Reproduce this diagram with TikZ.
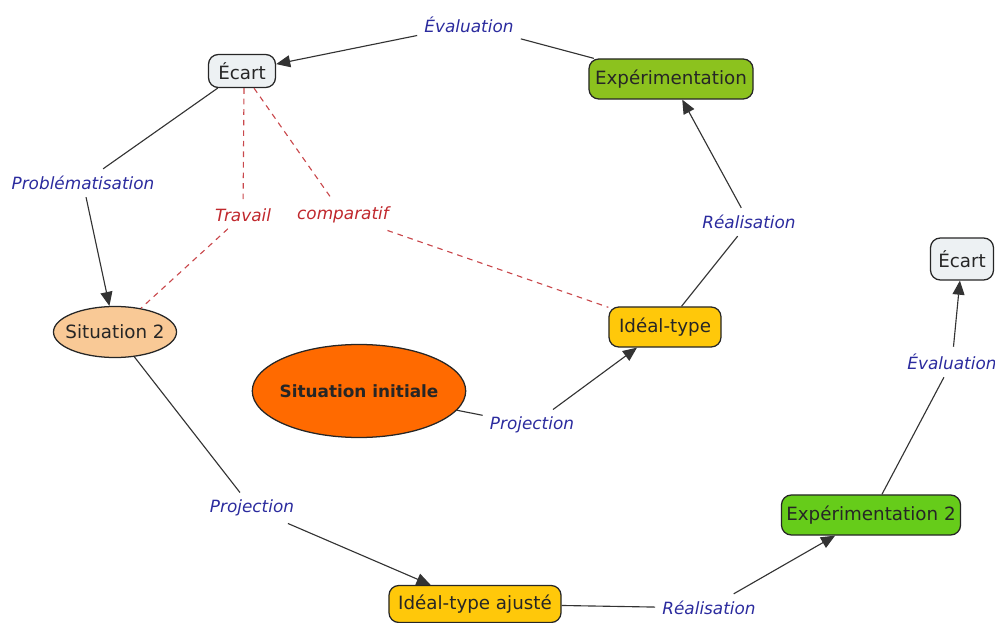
\documentclass[tikz,border=0pt]{standalone}
\usepackage{fontspec}
\setmainfont{DejaVu Sans}
\usetikzlibrary{arrows.meta,shapes.geometric}

\definecolor{ecartfill}{HTML}{EDF1F3}
\definecolor{expfill}{HTML}{8CC21E}
\definecolor{expfilltwo}{HTML}{66CC1A}
\definecolor{sitfill}{HTML}{F9C996}
\definecolor{initfill}{HTML}{FF6A00}
\definecolor{idealfill}{HTML}{FFC80A}
\definecolor{linkblue}{HTML}{2B2B9E}
\definecolor{linkred}{HTML}{C0282D}

\tikzset{
    concept/.style={draw=black!85, fill=ecartfill, rounded corners=7pt, line width=0.9pt,
        inner sep=0pt, text=black!85, font=\fontsize{13}{15}\selectfont},
    oval/.style={draw=black!85, ellipse, line width=0.9pt, inner ysep=0pt,
        text=black!85, font=\fontsize{13}{15}\selectfont},
    lien/.style={inner sep=5pt, text=linkblue, font=\fontsize{12}{14}\selectfont\itshape},
    lienrouge/.style={lien, text=linkred},
    trait/.style={draw=black!80, line width=0.8pt},
    fleche/.style={trait, -{Triangle[length=10pt,width=8.5pt]}},
    pointille/.style={draw=linkred!85, line width=0.8pt, dash pattern=on 4pt off 3.5pt}
}

\begin{document}
\begin{tikzpicture}[x=0.025cm, y=-0.025cm]
                \useasboundingbox (0, 0) rectangle (995, 623);

                \node[concept, minimum width=1.675cm, minimum height=0.825cm] (ecartA) at (242, 71) {Écart};

                \node[concept, fill=expfill, minimum width=4.1cm, minimum height=1cm] (exp) at (671, 79) {Expérimentation};

                \node[oval, fill=sitfill, inner xsep=-4.3pt, minimum height=1.275cm] (sitB) at (115, 332) {Situation 2};

                \node[oval, fill=initfill, inner xsep=-2.8pt, minimum height=2.325cm, font=\fontsize{12}{14}\selectfont\bfseries] (init) at (359, 391) {Situation initiale};

                \node[concept, fill=idealfill, minimum width=2.8cm, minimum height=1cm] (ideal) at (665, 327) {Idéal-type};

                \node[concept, minimum width=1.575cm, minimum height=1.05cm] (ecartB) at (962, 259) {Écart};

                \node[concept, fill=idealfill, minimum width=4.3cm, minimum height=0.925cm] (idealB) at (475, 604) {Idéal-type ajusté};

                \node[concept, fill=expfilltwo, minimum width=4.475cm, minimum height=1cm] (expB) at (871, 515) {Expérimentation 2};

                \node[lien] (evalA) at (469, 25) {Évaluation};

                \node[lien] (probl) at (83, 183) {Problématisation};

                \node[lienrouge] (travail) at (243, 215) {Travail};

                \node[lienrouge] (compar) at (343, 215) {comparatif};

                \node[lien] (realA) at (749, 222) {Réalisation};

                \node[lien] (projA) at (532, 425) {Projection};

                \node[lien] (projB) at (252, 508) {Projection};

                \node[lien] (realB) at (709, 608) {Réalisation};

                \node[lien] (evalB) at (952, 362) {Évaluation};

                \draw[trait] (exp) -- (evalA);

                \draw[fleche] (evalA) -- (ecartA);

                \draw[trait] (ecartA) -- (probl);

                \draw[fleche] (probl) -- (sitB);

                \draw[pointille] (ecartA.south) ++(2, 0) -- (travail);

                \draw[pointille] (travail) -- (sitB);

                \draw[pointille] (ecartA) -- (compar);

                \draw[pointille] (compar) -- (ideal);

                \draw[trait] (init) -- (projA);

                \draw[fleche] (projA) -- (ideal);

                \draw[trait] (ideal) -- (realA);

                \draw[fleche] (realA) -- (exp);

                \draw[trait] (sitB) -- (projB);

                \draw[fleche] (projB) -- (idealB);

                \draw[trait] (idealB) -- (realB);

                \draw[fleche] (realB) -- (expB);

                \draw[trait] (expB) -- (evalB);

                \draw[fleche] (evalB) -- (ecartB);
\end{tikzpicture}
\end{document}
